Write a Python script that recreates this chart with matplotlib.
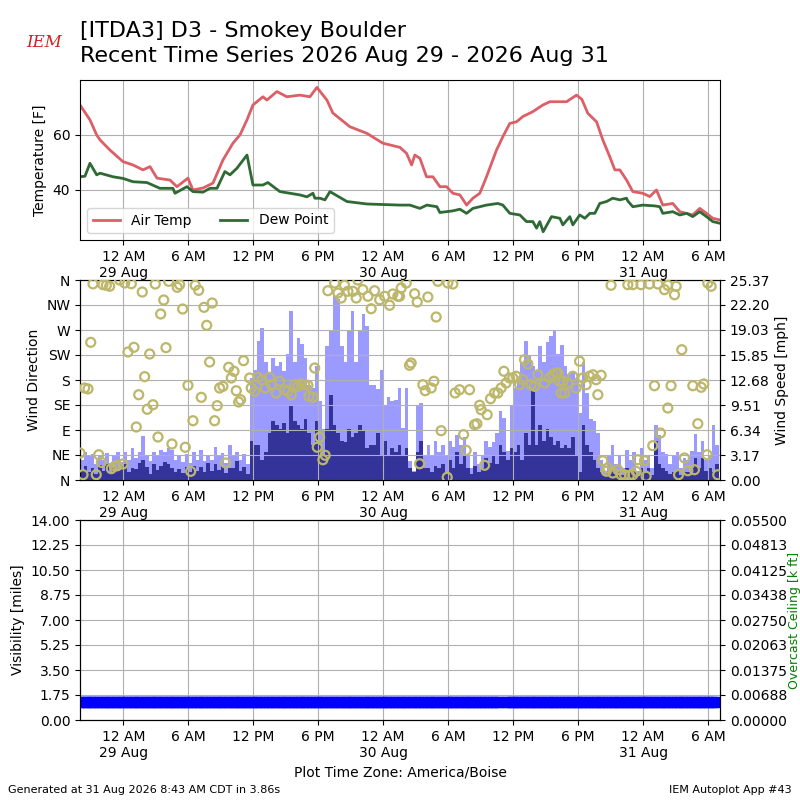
import datetime
import numpy as np
import matplotlib
matplotlib.use("Agg")
import matplotlib.pyplot as plt
import matplotlib.dates as mdates
from matplotlib.ticker import FixedLocator, FuncFormatter

# ---------------- data ----------------
start_time = datetime.datetime(2026, 8, 28, 20, 0)
end_hours = 59.1

temp_hours = [0.0, 0.92, 1.54, 1.85, 2.77, 3.97, 4.89, 5.82, 6.46, 7.11, 8.31, 8.95,
              9.97, 10.43, 11.35, 12.28, 13.2, 14.12, 14.77, 15.42, 15.97, 16.89,
              17.26, 18.18, 19.11, 20.31, 21.23, 21.88, 22.8, 23.35, 24.92, 26.49,
              27.97, 29.54, 30.16, 30.62, 30.92, 31.39, 32.0, 32.59, 33.23, 33.85,
              34.43, 35.08, 35.7, 36.28, 36.92, 37.54, 38.46, 39.05, 39.69, 40.31,
              40.89, 41.82, 42.74, 43.39, 44.93, 45.85, 46.34, 46.89, 47.7, 48.28,
              48.92, 49.39, 49.85, 50.47, 51.05, 51.97, 52.62, 53.23, 53.82, 54.74,
              55.38, 56.58, 57.23, 57.85, 58.43, 59.08]
air_temp = [70.9, 65.5, 60.0, 58.2, 54.5, 50.3, 49.1, 47.3, 48.5, 44.3, 43.6, 41.2,
            44.3, 40.0, 40.7, 42.5, 50.9, 57.0, 60.0, 65.5, 70.9, 73.9,
            72.7, 75.8, 73.9, 74.5, 73.9, 77.3, 72.7, 68.0, 63.0, 60.6,
            57.0, 55.5, 53.3, 49.1, 52.7, 51.5, 44.8, 44.8, 41.2, 41.2,
            38.8, 38.2, 34.5, 37.0, 38.8, 44.8, 54.5, 59.4, 64.2, 64.8,
            66.7, 68.5, 70.9, 72.1, 72.1, 74.5, 73.0, 67.9, 64.8, 58.2,
            52.1, 47.3, 47.3, 43.6, 39.4, 38.8, 37.6, 40.0, 34.5, 35.1,
            32.1, 30.9, 33.3, 31.5, 29.7, 29.1]

dew_hours = [0.0, 0.46, 0.92, 1.54, 1.85, 3.05, 3.97, 4.89, 6.18, 7.38, 8.58, 8.77,
             9.88, 10.43, 11.35, 12.0, 12.65, 13.38, 13.85, 14.49, 15.42, 15.97,
             16.89, 17.35, 18.46, 20.31, 20.95, 21.51, 21.69, 22.15, 22.62, 23.08,
             24.65, 26.49, 29.54, 30.46, 31.39, 32.03, 32.96, 33.23, 34.43, 35.08,
             35.7, 36.28, 37.54, 38.58, 39.05, 39.69, 40.62, 41.23, 41.82, 42.16,
             42.46, 42.77, 43.54, 44.31, 44.59, 45.23, 45.51, 46.15, 46.62, 47.08,
             47.54, 48.0, 48.62, 49.2, 49.85, 50.47, 50.58, 51.05, 51.97, 53.08,
             53.54, 53.82, 54.74, 55.38, 56.03, 56.58, 57.23, 57.85, 58.43, 59.08]
dew_point = [44.8, 45.0, 49.7, 45.5, 46.1, 44.8, 44.2, 43.0, 42.7, 40.6, 40.6, 38.8,
             41.2, 39.4, 39.2, 40.6, 40.6, 46.7, 45.5, 47.9, 52.7, 41.8,
             41.8, 42.7, 39.4, 38.2, 37.5, 38.8, 37.0, 37.0, 36.4, 39.4,
             35.8, 34.9, 34.5, 34.5, 33.3, 34.5, 33.9, 31.8, 32.4, 33.0,
             31.5, 33.3, 34.5, 35.1, 34.5, 31.5, 30.9, 28.5, 28.5, 26.1,
             28.5, 24.8, 30.3, 29.7, 27.3, 30.3, 27.3, 30.9, 29.7, 31.5,
             31.5, 35.1, 35.8, 37.0, 36.4, 37.0, 36.0, 33.9, 34.5, 34.2,
             33.9, 31.5, 32.1, 30.9, 31.5, 30.3, 32.1, 30.3, 28.5, 27.9]

# wind observations every 20 minutes from start_time
wind_gust = [2.5, 3.5, 3.0, 3.3, 2.0, 3.0, 2.5, 3.4, 2.2, 3.0, 3.6, 2.3,
             3.5, 2.6, 4.1, 2.8, 3.5, 5.6, 3.2, 2.4, 3.6, 3.0, 3.8, 3.5,
             4.0, 3.8, 2.6, 3.0, 2.3, 3.3, 2.2, 3.5, 2.6, 3.8, 2.4, 3.2,
             2.6, 4.2, 3.0, 3.4, 2.2, 4.5, 3.0, 3.6, 2.5, 3.3, 2.0, 12.9,
             14.0, 17.6, 19.3, 15.0, 13.5, 15.5, 14.5, 15.0, 13.8, 16.0, 21.4, 15.0,
             18.0, 17.2, 15.5, 12.0, 11.7, 14.5, 10.0, 6.5, 17.0, 19.0, 23.4, 23.0,
             17.0, 15.0, 19.0, 21.4, 15.0, 19.0, 21.0, 19.5, 12.0, 12.0, 11.5, 14.0,
             9.5, 10.5, 10.0, 10.2, 11.7, 6.6, 11.7, 2.4, 1.2, 9.5, 9.8, 3.0,
             4.5, 3.0, 5.0, 3.5, 4.5, 3.2, 5.0, 4.2, 5.7, 4.5, 5.5, 3.0,
             1.5, 3.5, 2.0, 3.0, 5.0, 4.2, 4.8, 6.0, 8.7, 7.9, 3.7, 9.5,
             11.7, 13.0, 15.0, 17.6, 15.9, 14.5, 14.0, 17.0, 15.0, 17.5, 18.3, 19.0,
             16.0, 17.1, 14.5, 13.5, 13.8, 13.0, 8.5, 15.0, 11.0, 7.7, 7.5, 6.0,
             2.5, 1.2, 3.2, 4.5, 2.0, 3.0, 1.5, 3.8, 2.5, 3.5, 1.2, 4.0,
             2.5, 3.0, 1.5, 7.0, 5.7, 3.5, 3.3, 2.0, 3.0, 3.5, 1.5, 2.8,
             2.5, 3.7, 5.8, 3.5, 4.9, 2.5, 3.0, 7.0, 4.4]
wind_speed = [1.2, 1.8, 1.0, 1.5, 0.8, 1.9, 1.2, 2.0, 0.9, 1.6, 1.1, 1.8,
              2.0, 1.0, 1.5, 1.4, 2.2, 2.5, 1.7, 0.8, 2.0, 1.3, 1.8, 2.3,
              2.0, 1.5, 1.0, 1.4, 0.9, 1.6, 1.0, 1.8, 1.2, 1.6, 1.0, 2.1,
              1.1, 2.0, 1.3, 1.8, 0.9, 1.5, 1.5, 2.4, 1.2, 1.6, 0.8, 5.0,
              4.4, 4.5, 2.5, 3.5, 6.0, 7.5, 7.0, 6.5, 7.2, 6.0, 9.5, 7.5,
              7.0, 6.5, 7.8, 6.0, 4.5, 7.5, 4.5, 3.0, 6.5, 10.8, 7.0, 6.0,
              5.0, 4.8, 6.5, 5.5, 6.0, 7.0, 6.2, 4.0, 4.5, 4.5, 6.0, 3.0,
              5.0, 3.0, 4.0, 3.5, 4.5, 3.0, 4.0, 1.5, 1.0, 3.5, 5.0, 1.5,
              1.5, 1.0, 1.8, 1.5, 2.0, 1.0, 2.5, 1.5, 3.5, 2.0, 3.0, 1.5,
              0.8, 1.8, 1.0, 1.5, 2.8, 2.2, 3.0, 2.0, 4.5, 3.5, 2.5, 4.0,
              3.5, 4.5, 2.5, 6.0, 4.5, 11.3, 4.5, 7.0, 5.0, 6.5, 5.5, 4.5,
              5.0, 4.0, 4.5, 4.0, 5.5, 3.0, 1.0, 7.0, 4.5, 3.5, 2.5, 1.5,
              1.0, 0.6, 1.2, 1.5, 0.8, 1.2, 0.6, 1.5, 1.0, 1.2, 0.5, 1.5,
              1.0, 1.5, 0.6, 5.0, 2.0, 1.5, 1.2, 0.8, 1.0, 1.3, 0.6, 1.0,
              1.0, 1.5, 2.8, 1.5, 2.8, 1.2, 1.5, 1.0, 2.0]

dir_hours = [0.0, 0.28, 0.99, 0.43, 0.74, 1.2, 1.5, 1.73, 1.97, 2.12, 2.43, 2.74,
             2.89, 3.2, 3.44, 3.97, 3.66, 4.43, 4.98, 4.13, 4.74, 5.2, 5.42, 5.75,
             5.97, 6.21, 6.74, 6.43, 6.95, 7.2, 7.45, 7.73, 7.94, 8.19, 8.49, 8.98,
             9.2, 9.48, 9.72, 9.97, 10.22, 10.43, 10.64, 10.96, 11.2, 11.45, 12.21,
             11.7, 11.97, 12.43, 12.67, 12.89, 13.2, 13.45, 13.73, 14.22, 13.97,
             14.43, 14.65, 14.83, 15.1, 15.67, 15.81, 16.13, 16.43, 16.8, 17.51,
             17.11, 17.66, 18.12, 18.43, 18.9, 19.51, 20.12, 20.74, 21.05, 19.2,
             19.82, 20.43, 21.14, 21.51, 21.67, 22.13, 21.91, 22.43, 22.64, 22.89,
             23.51, 23.82, 24.12, 24.43, 24.74, 25.2, 25.51, 25.66, 26.12, 26.59,
             26.89, 27.2, 27.67, 28.13, 28.59, 28.89, 29.35, 29.51, 29.66, 30.12,
             30.9, 31.14, 32.12, 33.05, 33.97, 34.43, 32.89, 30.43, 30.58, 31.66,
             31.88, 32.43, 32.68, 31.36, 33.35, 33.91, 34.64, 35.05, 35.97, 35.42,
             35.66, 36.43, 36.65, 36.9, 37.04, 37.6, 37.36, 37.91, 38.28, 38.59,
             38.89, 39.14, 39.35, 39.67, 39.97, 40.28, 40.59, 40.89, 41.05, 41.36,
             41.66, 41.97, 42.28, 42.9, 43.36, 43.66, 43.97, 44.28, 44.43, 44.12,
             44.59, 45.05, 45.51, 45.81, 46.13, 46.43, 46.74, 47.05, 47.36, 47.66,
             47.82, 48.12, 44.75, 49.04, 50.59, 51.05, 51.81, 52.59, 53.36, 53.97,
             54.28, 54.9, 55.05, 57.97, 58.28, 55.57, 53.05, 54.58, 56.59, 57.36,
             57.6, 54.28, 57.05, 53.6, 52.89, 48.28, 48.74, 48.6, 49.2, 49.66,
             49.97, 50.28, 50.74, 51.05, 51.36, 51.51, 52.13, 52.28, 55.27, 55.82,
             56.13, 56.74, 57.91, 58.89]
wind_dir = [48.6, 9.6, 247.8, 165.6, 164.0, 353.0, 9.6, 45.5, 31.8, 351.6, 350.5, 348.7,
            20.4, 24.6, 25.7, 28.8, 360.0, 230.4, 238.9, 354.6, 353.3, 95.4, 153.5, 338.4,
            186.0, 127.3, 135.5, 226.8, 352.8, 77.4, 298.8, 324.0, 238.2, 357.7, 64.8, 346.8,
            351.6, 307.8, 58.9, 170.4, 15.6, 106.7, 350.5, 341.4, 148.8, 310.8, 318.6,
            278.4, 212.4, 106.7, 133.8, 165.6, 168.6, 30.6, 202.9, 195.6, 183.6,
            160.7, 140.4, 144.5, 214.8, 183.6, 165.6, 159.7, 184.9, 180.5, 184.9,
            165.6, 171.5, 156.6, 177.7, 162.5, 153.5, 168.6, 171.5, 170.4, 159.7,
            171.5, 172.8, 150.7, 148.9, 201.6, 76.9, 58.9, 36.5, 44.5, 340.7,
            354.6, 336.6, 327.6, 350.5, 339.7, 339.7, 327.6, 360.0, 342.6, 330.7,
            308.3, 340.7, 324.5, 330.7, 314.5, 334.8, 330.7, 330.7, 345.6, 354.6,
            335.3, 320.4, 329.4, 357.7, 354.6, 352.8, 293.4, 206.5, 210.6, 171.5,
            160.7, 165.6, 177.7, 29.3, 88.7, 4.9, 156.6, 162.5, 162.5, 81.6,
            53.4, 99.6, 101.3, 134.5, 126.6, 117.5, 26.5, 146.3, 156.6, 156.6,
            165.6, 195.7, 174.6, 183.6, 183.6, 186.7, 171.5, 180.5, 216.5, 208.8,
            171.5, 168.6, 189.5, 174.6, 183.6, 189.5, 192.6, 177.7, 156.6, 192.6,
            177.7, 174.6, 186.7, 165.6, 213.7, 183.6, 171.5, 186.7, 189.5, 180.5,
            153.5, 188.5, 156.6, 350.5, 351.6, 351.6, 351.6, 352.8, 352.8, 342.6,
            350.5, 333.5, 348.7, 354.6, 348.7, 234.5, 169.7, 169.7, 169.7, 166.9,
            172.8, 129.6, 101.3, 84.6, 61.7, 34.7, 21.6, 15.7, 12.6, 18.5,
            9.5, 9.5, 8.5, 9.5, 15.7, 36.5, 34.7, 6.7, 9.5, 39.6,
            16.7, 18.5, 45.5, 9.5]

visibility = [1.25] * 117 + [np.nan] + [1.25] * 59

dir_ticks = [0, 45, 90, 135, 180, 225, 270, 315, 360]
dir_labels = ["N", "NE", "E", "SE", "S", "SW", "W", "NW", "N"]
speed_ticks = [0.0, 3.17, 6.34, 9.51, 12.68, 15.85, 19.03, 22.20, 25.37]
speed_labels = ["0.00", "3.17", "6.34", "9.51", "12.68", "15.85", "19.03", "22.20", "25.37"]
vis_ticks = [0.0, 1.75, 3.5, 5.25, 7.0, 8.75, 10.5, 12.25, 14.0]
ceil_ticks = [0.0, 0.006875, 0.01375, 0.020625, 0.0275, 0.034375, 0.04125, 0.048125, 0.055]
ceil_labels = ["0.00000", "0.00688", "0.01375", "0.02063", "0.02750", "0.03438",
               "0.04125", "0.04813", "0.05500"]
temp_ticks = [40, 60]

title = ("[ITDA3] D3 - Smokey Boulder\n"
         "Recent Time Series 2026 Aug 29 - 2026 Aug 31")

# ---------------- helpers ----------------
def to_dt(hours):
    return [start_time + datetime.timedelta(hours=h) for h in hours]

obs_times = [start_time + datetime.timedelta(minutes=20 * i) for i in range(len(wind_gust))]
obs_num = mdates.date2num(obs_times)

xmin = start_time
xmax = start_time + datetime.timedelta(hours=end_hours)
first_tick = datetime.datetime(2026, 8, 29, 0, 0)
tick_times = [first_tick + datetime.timedelta(hours=6 * k) for k in range(10)]


def fmt_time(x, pos=None):
    d = mdates.num2date(x).replace(tzinfo=None)
    h = d.hour
    if h == 0:
        return "12 AM\n%d %s" % (d.day, d.strftime("%b"))
    if h == 12:
        return "12 PM"
    if h < 12:
        return "%d AM" % h
    return "%d PM" % (h - 12)


def set_time_axis(ax):
    ax.set_xlim(xmin, xmax)
    ax.xaxis.set_major_locator(FixedLocator(mdates.date2num(tick_times)))
    ax.xaxis.set_major_formatter(FuncFormatter(fmt_time))
    ax.tick_params(axis="x", labelsize=10)


# ---------------- figure ----------------
fig = plt.figure(figsize=(8, 8), dpi=100)

fig.text(0.1, 0.9735, title, fontsize=16, va="top", ha="left", linespacing=1.3)
fig.text(0.055, 0.947, "IEM", fontsize=12, color="#d42020", style="italic",
         family="DejaVu Serif", ha="center", va="center")

# temperature panel
ax1 = fig.add_axes([0.1, 0.7, 0.8, 0.2])
ax1.plot(to_dt(temp_hours), air_temp, color="#dc5f67", lw=2, label="Air Temp")
ax1.plot(to_dt(dew_hours), dew_point, color="#2f6a35", lw=2, label="Dew Point")
ax1.set_ylim(21.8, 80)
ax1.set_yticks(temp_ticks)
ax1.set_ylabel("Temperature [F]")
ax1.grid(True)
set_time_axis(ax1)
ax1.legend(loc="lower left", ncol=2)

# wind panel
ax2 = fig.add_axes([0.1, 0.4, 0.8, 0.25])
ax2s = ax2.twinx()
ax2s.bar(obs_num, wind_gust, width=20 / 1440.0, align="edge", color="#9b9bff", lw=0)
ax2s.bar(obs_num, wind_speed, width=20 / 1440.0, align="edge", color="#333399", lw=0)
ax2s.set_ylim(0, 25.37)
ax2s.set_yticks(speed_ticks)
ax2s.set_yticklabels(speed_labels)
ax2s.set_ylabel("Wind Speed [mph]")
ax2.set_zorder(ax2s.get_zorder() + 1)
ax2.patch.set_visible(False)
ax2.scatter(to_dt(dir_hours), wind_dir, s=42, facecolors="none",
            edgecolors="#bdb76b", linewidths=1.6, zorder=5)
ax2.set_ylim(0, 360)
ax2.set_yticks(dir_ticks)
ax2.set_yticklabels(dir_labels)
ax2.set_ylabel("Wind Direction")
ax2.grid(True)
set_time_axis(ax2)

# visibility panel
ax3 = fig.add_axes([0.1, 0.1, 0.8, 0.25])
ax3.plot(obs_times, visibility, ls="none", marker="s", ms=6.5, color="#0000ff",
         mec="#0000ff")
ax3.set_ylim(0, 14)
ax3.set_yticks(vis_ticks)
ax3.yaxis.set_major_formatter(FuncFormatter(lambda v, p: "%.2f" % v))
ax3.set_ylabel("Visibility [miles]")
ax3.grid(True)
set_time_axis(ax3)
ax3.set_xlabel("Plot Time Zone: America/Boise")
ax3r = ax3.twinx()
ax3r.set_ylim(0, 0.055)
ax3r.set_yticks(ceil_ticks)
ax3r.set_yticklabels(ceil_labels)
ax3r.set_ylabel("Overcast Ceiling [k ft]", color="green", fontsize=9)
ax3r.yaxis.set_label_coords(1.1055, 0.5)
set_time_axis(ax3r)

fig.text(0.01, 0.012, "Generated at 31 Aug 2026 8:43 AM CDT in 3.86s", fontsize=8,
         ha="left", va="center")
fig.text(0.99, 0.012, "IEM Autoplot App #43", fontsize=8, ha="right", va="center")

fig.savefig("out.png", dpi=100)
